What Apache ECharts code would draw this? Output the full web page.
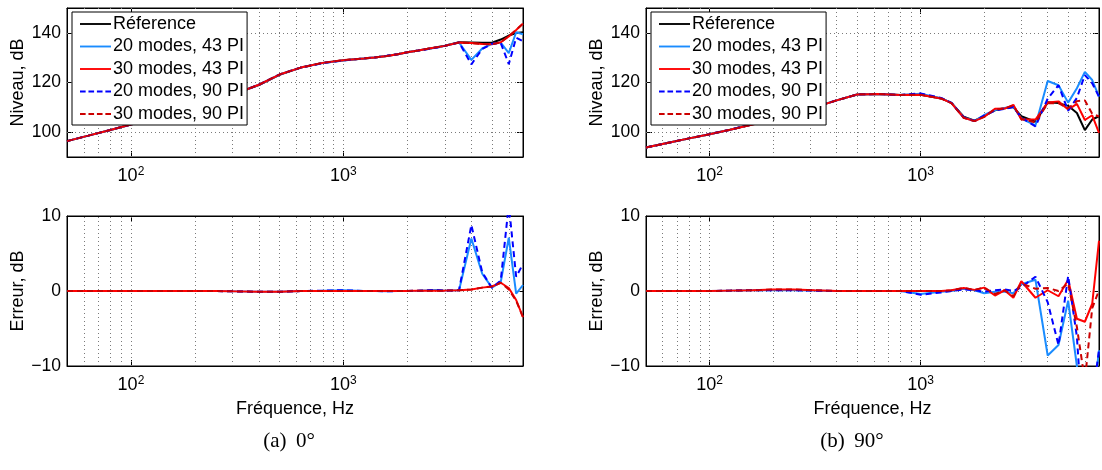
<!DOCTYPE html>
<html><head><meta charset="utf-8">
<script src="https://cdn.jsdelivr.net/npm/echarts@6/dist/echarts.min.js"></script>
<style>html,body{margin:0;padding:0;background:#fff}#c{width:1102px;height:470px}</style>
</head><body><div id="c"></div>
<script>
// ---------- data ----------
const freqs = [50,63,80,100,125,160,200,250,315,400,500,630,800,1000,1250,1400,1600,1800,2000,2250,2500,2750,3000,3500,4000,4500,5000,5500,6000,6500,7000];
const seriesNames = ['Réference','20 modes, 43 PI','30 modes, 43 PI','20 modes, 90 PI','30 modes, 90 PI'];

// (a) 0° — niveau, dB
const lvl0_ref = [96.4,98.6,100.9,103.1,105.3,107.8,110.2,112.9,115.7,119.0,123.1,126.0,127.9,129.0,129.7,130.1,130.7,131.4,132.2,132.9,133.6,134.2,134.8,136.2,136.1,136.0,136.0,137.3,138.9,139.9,140.2];
const lvl0_b43 = [96.4,98.6,100.9,103.1,105.3,107.8,110.2,112.9,115.75,119.1,123.2,126.0,127.85,128.9,129.7,130.1,130.75,131.4,132.2,132.85,133.5,134.05,134.75,136.1,129.1,133.7,135.55,136.1,131.8,140.25,139.4];
const lvl0_r43 = [96.4,98.6,100.9,103.1,105.3,107.8,110.2,112.9,115.75,119.1,123.2,126.0,127.9,129.0,129.7,130.1,130.7,131.4,132.2,132.85,133.55,134.15,134.75,136.1,135.9,135.55,135.4,136.2,138.5,141.1,143.7];
const lvl0_b90 = [96.4,98.6,100.9,103.1,105.3,107.8,110.2,112.9,115.75,119.1,123.2,126.0,127.85,128.9,129.7,130.1,130.75,131.4,132.2,132.85,133.5,134.05,134.75,136.1,127.3,133.5,135.6,135.9,127.4,138.0,136.6];
const lvl0_r90 = [96.4,98.6,100.9,103.1,105.3,107.8,110.2,112.9,115.75,119.1,123.2,126.0,127.9,129.0,129.7,130.1,130.7,131.4,132.2,132.85,133.55,134.15,134.75,136.1,135.9,135.55,135.4,136.2,138.7,141.2,143.7];
// (a) 0° — erreur, dB
const err0_b43 = [0,0,0,0,0,0,0,0,-0.05,-0.1,-0.1,0,0.05,0.1,0,0,-0.05,0,0,0.05,0.1,0.15,0.05,0.1,7.0,2.3,0.45,1.2,7.1,-0.35,0.8];
const err0_r43 = [0,0,0,0,0,0,0,0,-0.05,-0.1,-0.1,0,0,0,0,0,0,0,0,0.05,0.05,0.05,0.05,0.1,0.2,0.45,0.6,1.1,0.4,-1.2,-3.5];
const err0_b90 = [0,0,0,0,0,0,0,0,-0.05,-0.1,-0.1,0,0.05,0.1,0,0,-0.05,0,0,0.05,0.1,0.15,0.05,0.1,8.8,2.5,0.4,1.4,11.5,1.9,3.6];
const err0_r90 = [0,0,0,0,0,0,0,0,-0.05,-0.1,-0.1,0,0,0,0,0,0,0,0,0.05,0.05,0.05,0.05,0.1,0.2,0.45,0.6,1.1,0.2,-1.3,-3.5];

// (b) 90° — niveau, dB
const lvl90_ref = [93.8,95.6,97.5,99.2,101.0,103.2,105.4,107.6,110.1,112.8,115.2,115.4,115.0,115.1,113.6,111.8,106.2,104.6,106.6,108.8,109.6,110.1,106.4,104.2,112.0,111.7,110.6,107.7,100.8,105.1,106.4];
const lvl90_b43 = [93.8,95.6,97.5,99.2,101.0,103.2,105.3,107.5,110.1,112.8,115.2,115.4,115.0,115.5,113.7,111.8,105.9,104.5,106.9,108.9,109.7,110.4,105.5,102.7,120.6,118.9,111.9,117.7,124.3,121.0,114.3];
const lvl90_r43 = [93.8,95.6,97.5,99.2,100.95,103.1,105.2,107.4,110.0,112.8,115.2,115.4,115.0,115.1,113.6,111.7,105.8,104.45,106.15,109.4,109.5,111.0,105.1,105.1,111.9,112.4,109.1,111.4,104.9,106.8,99.7];
const lvl90_b90 = [93.8,95.6,97.5,99.2,101.0,103.2,105.4,107.6,110.1,112.8,115.2,115.4,115.0,115.6,113.8,111.8,106.0,104.5,106.7,108.7,109.4,110.1,105.9,102.3,113.5,118.9,108.6,113.8,123.0,119.7,114.3];
const lvl90_r90 = [93.8,95.6,97.5,99.2,100.95,103.1,105.2,107.4,110.0,112.8,115.2,115.4,115.0,115.1,113.6,111.7,105.8,104.45,106.15,109.2,109.5,110.8,105.4,103.9,111.6,111.7,109.6,112.5,112.8,107.4,106.3];
// (b) 90° — erreur, dB
const err90_b43 = [0,0,0,0,0.05,0.1,0.1,0.1,0.05,0,0,0,0,-0.4,-0.1,0,0.3,0.1,-0.3,-0.1,-0.1,-0.3,0.9,1.5,-8.6,-7.2,-1.3,-10.0,-23.5,-15.9,-7.9];
const err90_r43 = [0,0,0,0,0.05,0.1,0.2,0.2,0.1,0,0,0,0,0,0,0.1,0.4,0.15,0.45,-0.6,0.1,-0.9,1.3,-0.9,0.1,-0.7,1.5,-3.7,-4.1,-1.7,6.7];
const err90_b90 = [0,0,0,0,0.05,0.1,0.1,0.1,0.05,0,0,0,0,-0.5,-0.2,0,0.2,0.1,-0.1,0.1,0.2,0,0.5,1.9,-1.5,-7.2,2.0,-6.1,-22.2,-14.6,-7.9];
const err90_r90 = [0,0,0,0,0.05,0.1,0.2,0.2,0.1,0,0,0,0,0,0,0.1,0.4,0.15,0.45,-0.4,0.1,-0.7,1.0,0.3,0.4,0.0,1.0,-4.8,-12.0,-2.3,0.1];

// axes / ticks
const freqMin = 50, freqMax = 7000;
const xGridFreqs = [60,70,80,90,100,200,300,400,500,600,700,800,900,1000,2000,3000,4000,5000,6000];
const levelTicks = [100,120,140];
const levelMin = 90, levelMax = 150;
const errTicks = [-10,0,10];
const errGrid = [0];
const captions = ['(a)\u2009 0°','(b)\u2009 90°'];

// ---------- chart ----------
const FONT = '"Liberation Sans", Arial, Helvetica, sans-serif';
const SERIF = '"Liberation Serif", "DejaVu Serif", serif';
const colors = ['#000000','#1a8cff','#ff0000','#0000ff','#cc0000'];
const types = ['solid','solid','solid',[6,4],[6,4]];
const ICON_SOLID = 'path://M0,0H33V2H0Z';
const ICON_DASH = 'path://M0,0H6V2H0ZM9,0H15V2H9ZM18,0H24V2H18ZM27,0H33V2H27Z';
const icons = [ICON_SOLID, ICON_SOLID, ICON_SOLID, ICON_DASH, ICON_DASH];

const grids = [
  {left: 67, top: 8, width: 456, height: 149},
  {left: 67, top: 216, width: 456, height: 150},
  {left: 646, top: 8, width: 455, height: 149},
  {left: 646, top: 216, width: 455, height: 150}
].map(g => Object.assign({show: true, borderColor: '#000', borderWidth: 1, containLabel: false}, g));

const xLabelFmt = v => {
  const l = Math.log10(v), e = Math.round(l);
  if (Math.abs(l - e) > 1e-6) return '';
  return '{b|10}{s|' + e + '}';
};
const minusFmt = v => (v < 0 ? '\u2212' + Math.abs(v) : String(v));

const xAxes = [], yAxes = [];
for (let i = 0; i < 4; i++) {
  const isBottom = (i % 2 === 1);
  xAxes.push({
    type: 'log', logBase: 10, min: freqMin, max: freqMax, gridIndex: i, position: 'bottom',
    name: isBottom ? 'Fréquence, Hz' : '', nameLocation: 'middle', nameGap: 34,
    nameTextStyle: {fontSize: 18, fontFamily: FONT, color: '#000'},
    axisLine: {show: true, onZero: false, lineStyle: {color: '#000', width: 1}},
    axisTick: {show: true, inside: true, length: 6, lineStyle: {color: '#000'}},
    splitLine: {show: false},
    axisLabel: {show: true, margin: 9, formatter: xLabelFmt, color: '#000',
      rich: {b: {fontSize: 18, fontFamily: FONT, color: '#000'},
             s: {fontSize: 12, fontFamily: FONT, color: '#000', padding: [0, 0, 9, 0]}}}
  });
}
for (let i = 0; i < 4; i++) {
  xAxes.push({
    type: 'log', logBase: 10, min: freqMin, max: freqMax, gridIndex: i, position: 'top',
    axisLine: {show: true, onZero: false, lineStyle: {color: '#000', width: 1}},
    axisTick: {show: true, inside: true, length: 6, lineStyle: {color: '#000'}},
    splitLine: {show: false}, axisLabel: {show: false}
  });
}
for (let i = 0; i < 4; i++) {
  const isBottom = (i % 2 === 1);
  const base = {
    type: 'value', gridIndex: i, position: 'left',
    name: isBottom ? 'Erreur, dB' : 'Niveau, dB', nameLocation: 'middle', nameGap: 40,
    nameTextStyle: {fontSize: 18, fontFamily: FONT, color: '#000'},
    axisLine: {show: true, onZero: false, lineStyle: {color: '#000', width: 1}},
    axisTick: {show: true, inside: true, length: 6, lineStyle: {color: '#000'}},
    splitLine: {show: false},
    axisLabel: {show: true, margin: 6, fontSize: 17.5, fontFamily: FONT, color: '#000', formatter: minusFmt}
  };
  if (isBottom) {
    Object.assign(base, {min: errTicks[0], max: errTicks[errTicks.length - 1], interval: 10});
  } else {
    Object.assign(base, {min: levelMin, max: levelMax});
    base.axisLabel.customValues = levelTicks;
    base.axisTick.customValues = levelTicks;
  }
  yAxes.push(base);
}
for (let i = 0; i < 4; i++) {
  const isBottom = (i % 2 === 1);
  const base = {
    type: 'value', gridIndex: i, position: 'right',
    axisLine: {show: true, onZero: false, lineStyle: {color: '#000', width: 1}},
    axisTick: {show: true, inside: true, length: 6, lineStyle: {color: '#000'}},
    splitLine: {show: false}, axisLabel: {show: false}
  };
  if (isBottom) Object.assign(base, {min: -10, max: 10, interval: 10});
  else {
    Object.assign(base, {min: levelMin, max: levelMax});
    base.axisTick.customValues = levelTicks;
    base.axisLabel.customValues = levelTicks;
  }
  yAxes.push(base);
}

const series = [];
function gridSeries(i, yGridVals) {
  series.push({
    type: 'line', xAxisIndex: i, yAxisIndex: i, data: [], silent: true, z: 1,
    markLine: {
      silent: true, z: 1, animation: false, symbol: ['none', 'none'],
      label: {show: false},
      lineStyle: {color: '#7a7a7a', width: 1, type: [1, 3]},
      emphasis: {disabled: true},
      data: xGridFreqs.map(v => ({xAxis: v})).concat(yGridVals.map(v => ({yAxis: v})))
    }
  });
}
function addLines(i, arrays) {
  arrays.forEach((arr, k) => {
    if (!arr) return;
    series.push({
      name: seriesNames[k], type: 'line', xAxisIndex: i, yAxisIndex: i,
      data: freqs.map((f, j) => [f, arr[j]]),
      symbol: 'none', showSymbol: false, clip: true, z: 2,
      lineStyle: {color: colors[k], width: 2, type: types[k]},
      itemStyle: {color: colors[k]},
      emphasis: {disabled: true}
    });
  });
}
gridSeries(0, levelTicks); gridSeries(1, errGrid); gridSeries(2, levelTicks); gridSeries(3, errGrid);
addLines(0, [lvl0_ref, lvl0_b43, lvl0_r43, lvl0_b90, lvl0_r90]);
addLines(1, [null, err0_b43, err0_r43, err0_b90, err0_r90]);
addLines(2, [lvl90_ref, lvl90_b43, lvl90_r43, lvl90_b90, lvl90_r90]);
addLines(3, [null, err90_b43, err90_r43, err90_b90, err90_r90]);

const legendBase = {
  orient: 'vertical', top: 12, itemWidth: 31, itemHeight: 14, itemGap: 4.5,
  padding: [3, 3, 2, 8], backgroundColor: '#fff', borderColor: '#000', borderWidth: 1,
  borderRadius: 0, selectedMode: false, z: 10, symbolKeepAspect: true,
  textStyle: {fontSize: 18, fontFamily: FONT, color: '#000', lineHeight: 18, padding: [0, 0, 0, -3]},
  data: seriesNames.map((n, k) => ({name: n, icon: icons[k], itemStyle: {color: colors[k]}}))
};

const capStyle = {font: '21px ' + SERIF, fill: '#000', align: 'center'};
const option = {
  animation: false,
  backgroundColor: '#fff',
  grid: grids,
  xAxis: xAxes,
  yAxis: yAxes,
  legend: [Object.assign({left: 72}, legendBase), Object.assign({left: 651}, legendBase)],
  graphic: [
    {type: 'text', x: 289, y: 431, style: Object.assign({text: captions[0]}, capStyle)},
    {type: 'text', x: 852, y: 431, style: Object.assign({text: captions[1]}, capStyle)}
  ],
  series: series
};

const chart = echarts.init(document.getElementById('c'), null, {renderer: 'canvas'});
chart.setOption(option);
</script>
</body></html>
